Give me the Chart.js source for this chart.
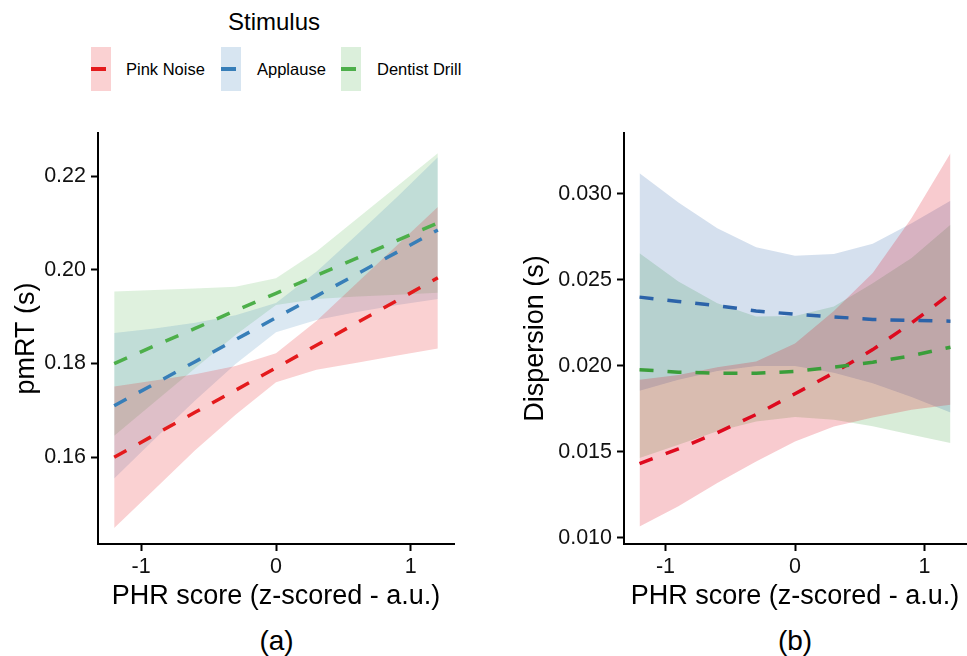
<!DOCTYPE html>
<html>
<head>
<meta charset="utf-8">
<script src="https://cdn.jsdelivr.net/npm/chart.js@4.4.0/dist/chart.umd.min.js"></script>
<style>
html,body{margin:0;padding:0;background:#fff;}
body{width:967px;height:656px;position:relative;overflow:hidden;font-family:"Liberation Sans",Arial,sans-serif;color:#000;}
canvas{position:absolute;}
#ca{left:0;top:100px;}
#cb{left:490px;top:100px;}
.t{position:absolute;white-space:nowrap;line-height:1;}
.key{position:absolute;top:47px;width:20px;height:44px;}
.key span{position:absolute;left:0;top:67.2px;width:14.5px;height:3.6px;}
</style>
</head>
<body>
<div class="t" style="left:228px;top:9.5px;font-size:24px;">Stimulus</div>

<div class="key" style="left:91px;background:rgba(228,26,28,0.2);"><span style="background:#E41A1C;top:20.2px"></span></div>
<div class="t" style="left:126px;top:61px;font-size:16.5px;">Pink Noise</div>
<div class="key" style="left:221px;background:rgba(55,126,184,0.2);"><span style="background:#377EB8;top:20.2px"></span></div>
<div class="t" style="left:257px;top:61px;font-size:16.5px;">Applause</div>
<div class="key" style="left:341px;background:rgba(77,175,74,0.2);"><span style="background:#4DAF4A;top:20.2px"></span></div>
<div class="t" style="left:377px;top:61px;font-size:16.5px;">Dentist Drill</div>

<canvas id="ca" width="480" height="520"></canvas>
<canvas id="cb" width="477" height="520"></canvas>

<div class="t" style="left:276.5px;top:640.5px;font-size:28px;transform:translate(-50%,-50%);">(a)</div>
<div class="t" style="left:795px;top:640.5px;font-size:28px;transform:translate(-50%,-50%);">(b)</div>

<script>
// ---- data ----
const xs = [-1.2, -0.9, -0.6, -0.3, 0, 0.3, 0.6, 0.9, 1.2];
const stimuli = ['Pink Noise', 'Applause', 'Dentist Drill'];

// panel (a): pmRT (s)
const pinkA    = [0.1600, 0.1648, 0.1696, 0.1743, 0.1791, 0.1839, 0.1887, 0.1935, 0.1983];
const pinkAHi  = [0.1751, 0.1764, 0.1777, 0.1795, 0.1822, 0.1891, 0.1972, 0.2053, 0.2134];
const pinkALo  = [0.1449, 0.1532, 0.1615, 0.1691, 0.1760, 0.1787, 0.1802, 0.1817, 0.1832];
const blueA    = [0.1710, 0.1757, 0.1804, 0.1851, 0.1898, 0.1944, 0.1991, 0.2038, 0.2085];
const blueAHi  = [0.1865, 0.1875, 0.1887, 0.1903, 0.1929, 0.1996, 0.2075, 0.2156, 0.2240];
const blueALo  = [0.1555, 0.1639, 0.1721, 0.1799, 0.1867, 0.1893, 0.1910, 0.1925, 0.1938];
const greenA   = [0.1800, 0.1838, 0.1875, 0.1913, 0.1950, 0.1988, 0.2025, 0.2063, 0.2100];
const greenAHi = [0.1954, 0.1957, 0.1960, 0.1964, 0.1982, 0.2039, 0.2109, 0.2179, 0.2249];
const greenALo = [0.1646, 0.1718, 0.1790, 0.1861, 0.1925, 0.1938, 0.1943, 0.1947, 0.1951];

// panel (b): Dispersion (s)
const pinkB    = [0.01432, 0.01518, 0.01612, 0.01718, 0.01838, 0.01960, 0.02095, 0.02250, 0.02420];
const pinkBHi  = [0.01920, 0.01948, 0.01993, 0.02026, 0.02130, 0.02320, 0.02540, 0.02860, 0.03236];
const pinkBLo  = [0.01067, 0.01184, 0.01319, 0.01445, 0.01561, 0.01648, 0.01700, 0.01745, 0.01774];
const blueB    = [0.02400, 0.02375, 0.02350, 0.02320, 0.02300, 0.02285, 0.02270, 0.02265, 0.02260];
const blueBHi  = [0.03120, 0.02950, 0.02800, 0.02690, 0.02640, 0.02650, 0.02710, 0.02830, 0.02960];
const blueBLo  = [0.01856, 0.01920, 0.01970, 0.02000, 0.02000, 0.01960, 0.01900, 0.01820, 0.01730];
const greenB   = [0.01978, 0.01964, 0.01958, 0.01958, 0.01968, 0.01993, 0.02022, 0.02059, 0.02109];
const greenBHi = [0.02655, 0.02491, 0.02365, 0.02287, 0.02290, 0.02345, 0.02481, 0.02627, 0.02820];
const greenBLo = [0.01465, 0.01542, 0.01620, 0.01677, 0.01703, 0.01687, 0.01649, 0.01600, 0.01552];

// tick labels
const xTicks  = [-1, 0, 1];
const yTicksA = [0.16, 0.18, 0.20, 0.22];
const yTicksB = [0.010, 0.015, 0.020, 0.025, 0.030];

// ---- helpers ----
const FONT = "'Liberation Sans', Arial, sans-serif";
const pts = arr => xs.map((x, i) => ({x: x, y: arr[i]}));

function lineDs(label, arr, color) {
  return {label: label, data: pts(arr), borderColor: color, borderWidth: 3.5,
          borderDash: [14, 14], borderCapStyle: 'butt', pointRadius: 0, fill: false, tension: 0};
}
function ribbonDs(label, hi, lo, fillColor) {
  return [
    {label: label + ' upper', data: pts(hi), borderColor: 'rgba(0,0,0,0)', borderWidth: 0,
     pointRadius: 0, fill: '+1', backgroundColor: fillColor, tension: 0},
    {label: label + ' lower', data: pts(lo), borderColor: 'rgba(0,0,0,0)', borderWidth: 0,
     pointRadius: 0, fill: false, tension: 0}
  ];
}

function makeChart(id, cfg) {
  return new Chart(document.getElementById(id), {
    type: 'line',
    data: {datasets: cfg.datasets},
    options: {
      responsive: false, animation: false, devicePixelRatio: 1,
      layout: {padding: {top: 33, right: cfg.padRight, bottom: 0, left: 0}},
      plugins: {legend: {display: false}, tooltip: {enabled: false}},
      scales: {
        x: {
          type: 'linear', min: cfg.xMin, max: cfg.xMax,
          afterBuildTicks: s => { s.ticks = xTicks.map(v => ({value: v})); },
          afterFit: s => { s.height = 76; },
          ticks: {color: '#111', font: {family: FONT, size: 21.5}, padding: 3,
                  callback: v => String(v)},
          grid: {display: true, drawOnChartArea: false, drawTicks: true, tickLength: 7,
                 tickWidth: 2, tickColor: '#000', color: '#000'},
          border: {display: true, color: '#000', width: 2},
          title: {display: true, text: 'PHR score (z-scored - a.u.)', color: '#000',
                  font: {family: FONT, size: 27}, padding: {top: 0, bottom: 7}}
        },
        y: {
          type: 'linear', min: cfg.yMin, max: cfg.yMax,
          afterBuildTicks: s => { s.ticks = cfg.yTicks.map(v => ({value: v})); },
          afterFit: s => { s.width = cfg.yWidth; },
          ticks: {color: '#111', font: {family: FONT, size: 21.5}, padding: 5,
                  callback: v => v.toFixed(cfg.dec)},
          grid: {display: true, drawOnChartArea: false, drawTicks: true, tickLength: 7,
                 tickWidth: 2, tickColor: '#000', color: '#000'},
          border: {display: true, color: '#000', width: 2},
          title: {display: true, text: cfg.yTitle, color: '#000',
                  font: {family: FONT, size: 27}, padding: {top: cfg.yTitlePad, bottom: 0}}
        }
      }
    }
  });
}

// panel (a)
makeChart('ca', {
  datasets: [
    lineDs(stimuli[2], greenA, '#4DAF4A'),
    lineDs(stimuli[1], blueA, '#377EB8'),
    lineDs(stimuli[0], pinkA, '#E41A1C'),
    ...ribbonDs(stimuli[0], pinkAHi, pinkALo, 'rgba(228,26,28,0.2)'),
    ...ribbonDs(stimuli[1], blueAHi, blueALo, 'rgba(55,126,184,0.18)'),
    ...ribbonDs(stimuli[2], greenAHi, greenALo, 'rgba(77,175,74,0.18)')
  ],
  xMin: -1.32, xMax: 1.32, yMin: 0.1415, yMax: 0.2292,
  yTicks: yTicksA, dec: 2, yWidth: 98, padRight: 26,
  yTitle: 'pmRT (s)', yTitlePad: 10
});

// panel (b)
makeChart('cb', {
  datasets: [
    lineDs(stimuli[2], greenB, '#3A9E3A'),
    lineDs(stimuli[1], blueB, '#2C63A9'),
    lineDs(stimuli[0], pinkB, '#DE0A1E'),
    ...ribbonDs(stimuli[0], pinkBHi, pinkBLo, 'rgba(222,10,30,0.21)'),
    ...ribbonDs(stimuli[1], blueBHi, blueBLo, 'rgba(44,99,169,0.2)'),
    ...ribbonDs(stimuli[2], greenBHi, greenBLo, 'rgba(58,158,58,0.2)')
  ],
  xMin: -1.32, xMax: 1.32, yMin: 0.00965, yMax: 0.03354,
  yTicks: yTicksB, dec: 3, yWidth: 134, padRight: 1,
  yTitle: 'Dispersion (s)', yTitlePad: 29
});
</script>
</body>
</html>
